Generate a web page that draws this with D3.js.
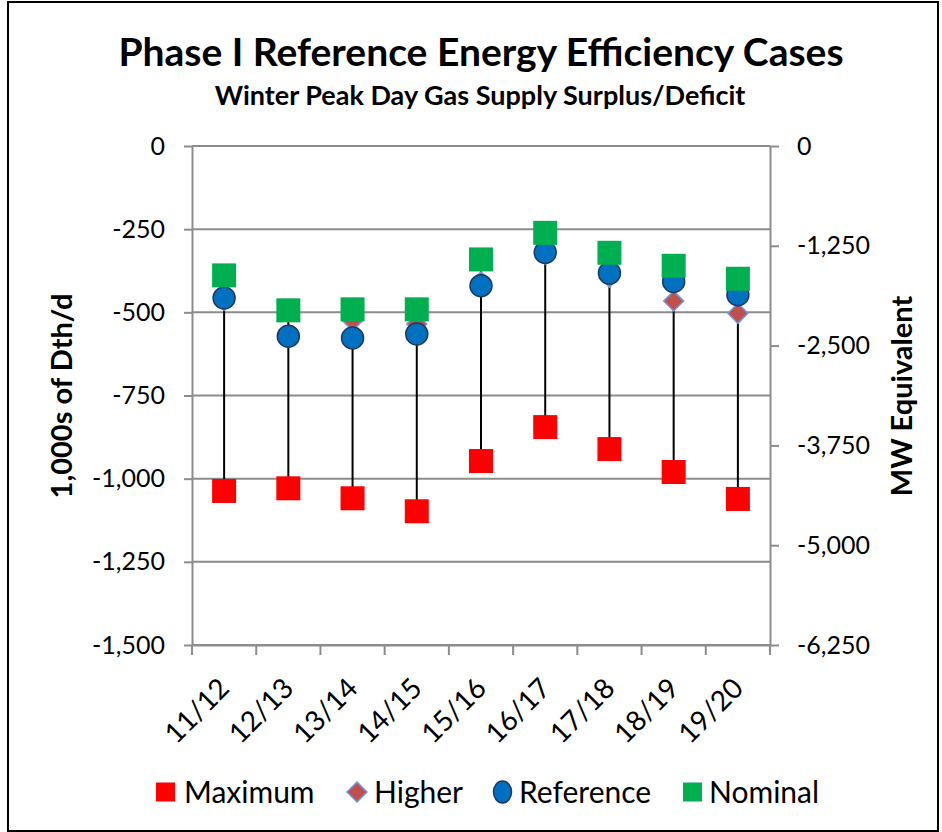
<!DOCTYPE html>
<html>
<head>
<meta charset="utf-8">
<script src="https://cdn.jsdelivr.net/npm/d3@7"></script>
<style>
  body { margin: 0; background: #fff; }
  svg text { font-family: Lato, "Open Sans", sans-serif; fill: #000; }
  .axis path, .axis line { stroke: #8c8c8c; stroke-width: 2; }
</style>
</head>
<body>
<div id="chart"></div>
<script>
const seasons = ["11/12", "12/13", "13/14", "14/15", "15/16", "16/17", "17/18", "18/19", "19/20"];
const maximum = [-1037, -1029, -1059, -1098, -947, -845, -911, -980, -1061];
const higher = [-464, -575, -525, -535, -408, -325, -394, -466, -503];
const reference = [-457, -572, -577, -565, -420, -320, -382, -407, -447];
const nominal = [-389, -494, -491, -491, -341, -261, -321, -360, -399];
const leftTicks = [0, -250, -500, -750, -1000, -1250, -1500];
const rightTicks = [0, -1250, -2500, -3750, -5000, -6250];

const width = 942, height = 832;
const margin = { top: 146, right: 172, bottom: 187, left: 192 };
const innerWidth = width - margin.left - margin.right;
const innerHeight = height - margin.top - margin.bottom;

const fmt = d3.formatLocale({ decimal: ".", thousands: ",", grouping: [3], currency: ["", ""], minus: "-" }).format(",");

const svg = d3.select("#chart").append("svg")
    .attr("width", width)
    .attr("height", height);

// chart border
svg.append("rect")
    .attr("x", 8).attr("y", 2)
    .attr("width", 930).attr("height", 829)
    .attr("fill", "none")
    .attr("stroke", "#000")
    .attr("stroke-width", 2);

svg.append("text")
    .attr("x", 481).attr("y", 66)
    .attr("text-anchor", "middle")
    .attr("font-size", 39)
    .attr("font-weight", "bold")
    .text("Phase I Reference Energy Efficiency Cases");

svg.append("text")
    .attr("x", 480).attr("y", 105)
    .attr("text-anchor", "middle")
    .attr("font-size", 27)
    .attr("font-weight", "bold")
    .text("Winter Peak Day Gas Supply Surplus/Deficit");

const g = svg.append("g")
    .attr("transform", `translate(${margin.left}, ${margin.top})`);

const xScale = d3.scaleBand().domain(seasons).range([0, innerWidth]);
const yScale = d3.scaleLinear().domain([-1500, 0]).range([innerHeight, 0]);
const y2Scale = d3.scaleLinear().domain([-6250, 0]).range([innerHeight, 0]);

// gridlines
g.append("g")
    .selectAll("line")
    .data(leftTicks)
    .join("line")
    .attr("x1", 0).attr("x2", innerWidth)
    .attr("y1", d => yScale(d)).attr("y2", d => yScale(d))
    .attr("stroke", "#8c8c8c")
    .attr("stroke-width", 2);

// left axis
const yAxis = g.append("g")
    .attr("class", "axis")
    .call(d3.axisLeft(yScale).tickValues(leftTicks).tickFormat(fmt).tickSize(8).tickPadding(19).tickSizeOuter(0));
yAxis.selectAll("text").attr("font-size", 25);

// right axis
const y2Axis = g.append("g")
    .attr("class", "axis")
    .attr("transform", `translate(${innerWidth}, 0)`)
    .call(d3.axisRight(y2Scale).tickValues(rightTicks).tickFormat(fmt).tickSize(9).tickPadding(18).tickSizeOuter(0));
y2Axis.selectAll("text").attr("font-size", 25);

// bottom axis
const xAxis = g.append("g")
    .attr("class", "axis")
    .attr("transform", `translate(0, ${innerHeight})`)
    .call(d3.axisBottom(xScale).tickSize(0).tickSizeOuter(0));
xAxis.selectAll("text")
    .attr("font-size", 28)
    .attr("text-anchor", "end")
    .attr("dy", 0)
    .attr("y", 0)
    .attr("transform", "translate(7, 45) rotate(-45)");

const bounds = seasons.map(s => xScale(s)).concat([innerWidth]);
xAxis.append("g")
    .selectAll("line")
    .data(bounds)
    .join("line")
    .attr("x1", d => d).attr("x2", d => d)
    .attr("y1", 0).attr("y2", 10)
    .attr("stroke", "#8c8c8c")
    .attr("stroke-width", 2);

// axis titles
svg.append("text")
    .attr("transform", "translate(72, 396) rotate(-90)")
    .attr("text-anchor", "middle")
    .attr("font-size", 29)
    .attr("font-weight", "bold")
    .text("1,000s of Dth/d");

svg.append("text")
    .attr("transform", "translate(912, 396) rotate(-90)")
    .attr("text-anchor", "middle")
    .attr("font-size", 29)
    .attr("font-weight", "bold")
    .text("MW Equivalent");

const cx = i => xScale(seasons[i]) + xScale.bandwidth() / 2;

// high-low lines
const all = seasons.map((s, i) => [maximum[i], higher[i], reference[i], nominal[i]]);
g.append("g")
    .selectAll("line")
    .data(all)
    .join("line")
    .attr("x1", (d, i) => cx(i)).attr("x2", (d, i) => cx(i))
    .attr("y1", d => yScale(d3.min(d))).attr("y2", d => yScale(d3.max(d)))
    .attr("stroke", "#000")
    .attr("stroke-width", 2);

const sq = 24;
// Maximum
g.append("g").selectAll("rect")
    .data(maximum)
    .join("rect")
    .attr("x", (d, i) => cx(i) - sq / 2)
    .attr("y", d => yScale(d) - sq / 2)
    .attr("width", sq).attr("height", sq)
    .attr("fill", "#ff0000");

// Higher
const dm = 10;
g.append("g").selectAll("path")
    .data(higher)
    .join("path")
    .attr("d", (d, i) => {
        const x = cx(i), y = yScale(d);
        return `M${x},${y - dm}L${x + dm},${y}L${x},${y + dm}L${x - dm},${y}Z`;
    })
    .attr("fill", "#c0504d")
    .attr("stroke", "#6f9be0")
    .attr("stroke-width", 1.5);

// Reference
g.append("g").selectAll("circle")
    .data(reference)
    .join("circle")
    .attr("cx", (d, i) => cx(i))
    .attr("cy", d => yScale(d))
    .attr("r", 11)
    .attr("fill", "#0070c0")
    .attr("stroke", "#1f3a60")
    .attr("stroke-width", 1.5);

// Nominal
g.append("g").selectAll("rect")
    .data(nominal)
    .join("rect")
    .attr("x", (d, i) => cx(i) - sq / 2)
    .attr("y", d => yScale(d) - sq / 2)
    .attr("width", sq).attr("height", sq)
    .attr("fill", "#00b050");

// legend
const legend = svg.append("g").attr("transform", "translate(0, 792)");
const items = [
    { name: "Maximum", x: 156, tx: 184, shape: "square", color: "#ff0000" },
    { name: "Higher", x: 347, tx: 374, shape: "diamond", color: "#c0504d" },
    { name: "Reference", x: 493, tx: 519, shape: "circle", color: "#0070c0" },
    { name: "Nominal", x: 683, tx: 709, shape: "square", color: "#00b050" }
];
items.forEach(it => {
    if (it.shape === "square") {
        legend.append("rect").attr("x", it.x).attr("y", -9.5).attr("width", 19).attr("height", 19).attr("fill", it.color);
    } else if (it.shape === "diamond") {
        legend.append("path")
            .attr("d", `M${it.x + 10},-10L${it.x + 20},0L${it.x + 10},10L${it.x},0Z`)
            .attr("fill", it.color).attr("stroke", "#6f9be0").attr("stroke-width", 1.5);
    } else {
        legend.append("ellipse").attr("cx", it.x + 9.5).attr("cy", 0).attr("rx", 9).attr("ry", 11)
            .attr("fill", it.color).attr("stroke", "#1f3a60").attr("stroke-width", 1.5);
    }
    legend.append("text")
        .attr("x", it.tx).attr("y", 11)
        .attr("font-size", 30)
        .text(it.name);
});
</script>
</body>
</html>
